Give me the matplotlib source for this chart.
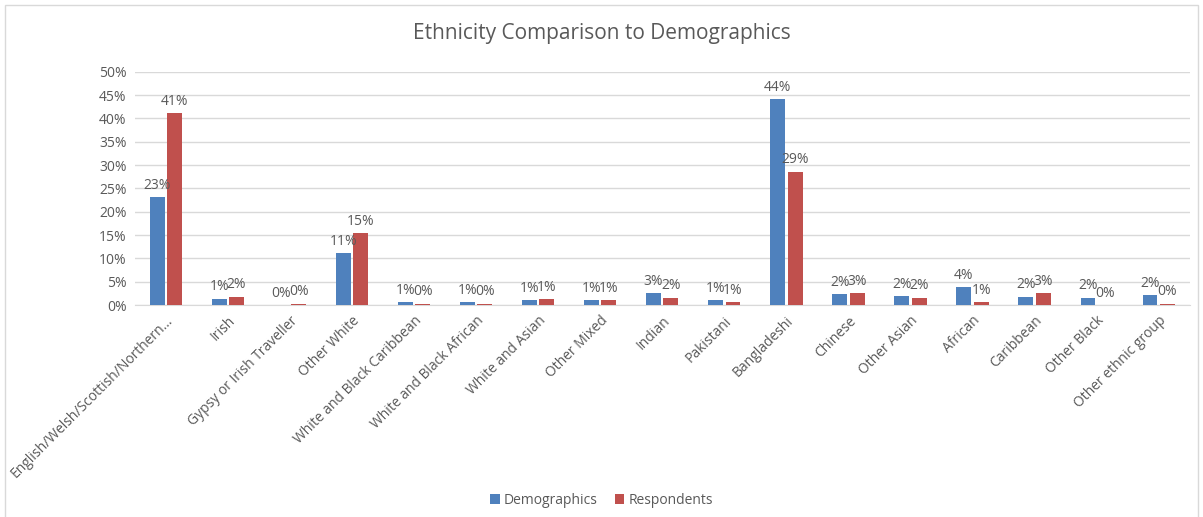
import numpy as np
import matplotlib.pyplot as plt
from matplotlib.patches import Rectangle

plt.rcParams['font.family'] = ['Open Sans', 'DejaVu Sans']

groups = ["English/Welsh/Scottish/Northern...", "Irish", "Gypsy or Irish Traveller",
          "Other White", "White and Black Caribbean", "White and Black African",
          "White and Asian", "Other Mixed", "Indian", "Pakistani", "Bangladeshi",
          "Chinese", "Other Asian", "African", "Caribbean", "Other Black",
          "Other ethnic group"]
demographics = [23.1, 1.4, 0.05, 11.1, 0.7, 0.6, 1.1, 1.0, 2.6, 1.1, 44.1,
                2.3, 1.9, 3.8, 1.8, 1.6, 2.1]
respondents = [41.2, 1.8, 0.3, 15.4, 0.3, 0.3, 1.3, 1.0, 1.6, 0.7, 28.6,
               2.6, 1.6, 0.6, 2.6, 0.0, 0.3]

blue = "#4F81BD"
red = "#C0504D"
grey = "#595959"

fig = plt.figure(figsize=(12.03, 5.17), dpi=100)
ax = fig.add_axes([0.112, 0.41, 0.877, 0.451])

x = np.arange(len(groups))
w = 0.24
b1 = ax.bar(x - 0.14, demographics, w, color=blue, label="Demographics", zorder=3)
b2 = ax.bar(x + 0.14, respondents, w, color=red, label="Respondents", zorder=3)

for bars, vals in [(b1, demographics), (b2, respondents)]:
    for rect, v in zip(bars, vals):
        ax.annotate("%d%%" % int(v + 0.5), (rect.get_x() + rect.get_width() / 2, v),
                    xytext=(0, 3), textcoords="offset points", ha="center",
                    va="bottom", fontsize=10, color=grey)

ax.set_ylim(0, 50)
ax.set_xlim(-0.5, len(groups) - 0.5)
ax.set_yticks(range(0, 51, 5))
ax.set_yticklabels(["%d%%" % t for t in range(0, 51, 5)])
ax.set_xticks(x)
ax.set_xticklabels(groups, rotation=45, ha="right", rotation_mode="anchor")
ax.tick_params(axis="both", length=0, labelsize=10, labelcolor=grey, pad=6)
ax.grid(axis="y", color="#D9D9D9", linewidth=1, zorder=0)
for s in ["top", "right", "left"]:
    ax.spines[s].set_visible(False)
ax.spines["bottom"].set_color("#D9D9D9")

fig.suptitle("Ethnicity Comparison to Demographics", y=0.955, fontsize=15, color=grey)
fig.legend(loc="center", bbox_to_anchor=(0.5, 0.032), ncol=2, frameon=False,
           fontsize=10, labelcolor=grey, handlelength=0.7, handleheight=0.7,
           handletextpad=0.3, columnspacing=1.2)

# light frame around the chart area
fig.patches.append(Rectangle((0.004, -0.01), 0.992, 1.0, transform=fig.transFigure,
                             fill=False, edgecolor="#D9D9D9", linewidth=1))

fig.savefig("out.png", dpi=100)
